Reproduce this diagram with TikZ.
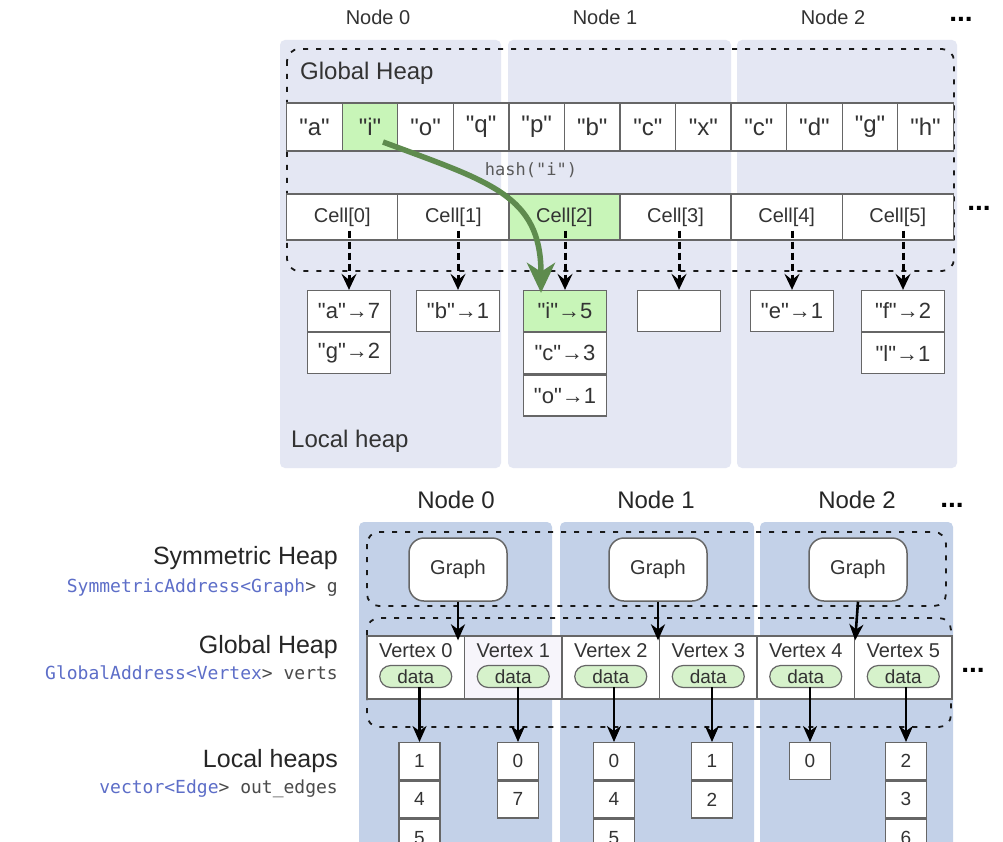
\documentclass[tikz,border=0pt]{standalone}
\usepackage{fontspec}
\setmainfont{Liberation Sans}[Ligatures=TeXOff]
\setmonofont{DejaVu Sans Mono}
\usetikzlibrary{arrows.meta,calc}

\definecolor{topbg}{HTML}{E4E7F3}
\definecolor{botbg}{HTML}{C3D1E8}
\definecolor{hlgreen}{HTML}{C8F5B8}
\definecolor{pillgreen}{HTML}{D6F2CB}
\definecolor{arrowgreen}{HTML}{5E8B4E}
\definecolor{ink}{HTML}{333333}
\definecolor{frame}{HTML}{666666}
\definecolor{codeblue}{HTML}{5D6EC8}
\definecolor{codegray}{HTML}{4A4A4A}
\definecolor{softwhite}{HTML}{F7F5FB}

\newcommand\fsz[1]{\fontsize{#1}{#1}\selectfont}

\tikzset{
  topcol/.style={fill=topbg, rounded corners=5pt},
  botcol/.style={fill=botbg, rounded corners=5pt},
  heapline/.style={draw=black!90, line width=1.8pt, dash pattern=on 5pt off 8pt, rounded corners=12pt},
  strcell/.style={draw=frame, line width=1.3pt, minimum width=55.55pt, minimum height=48pt,
    inner sep=0pt, text=ink, font=\fsz{24}},
  hcell/.style={draw=frame, line width=1.3pt, minimum width=111.1pt, minimum height=46pt,
    inner sep=0pt, text=ink, font=\fsz{20}},
  kvbox/.style={draw=frame, line width=1.3pt, fill=white, minimum width=83pt, minimum height=41pt,
    inner sep=0pt, text=ink, font=\fsz{22}},
  ptrdash/.style={line width=3pt, dash pattern=on 7pt off 4pt,
    -{Stealth[length=16pt,width=15pt,inset=6pt]}},
  ptrsolid/.style={line width=2.6pt, -{Stealth[length=16pt,width=14pt,inset=5pt]}},
  hasharrow/.style={draw=arrowgreen, line width=5.5pt,
    -{Stealth[length=30pt,width=28pt,inset=9pt]}},
  toplabel/.style={text=ink, font=\fsz{20}},
  botlabel/.style={text=black!85, font=\fsz{24}},
  heaptitle/.style={text=ink, font=\fsz{24}, anchor=base west, inner sep=0pt},
  sidetitle/.style={text=black!85, font=\fsz{25}, anchor=base east, inner sep=0pt},
  sidecode/.style={font=\ttfamily\fsz{18}, anchor=base east, inner sep=0pt},
  ellipsis/.style={font=\fsz{28}\bfseries, text=black, anchor=base, inner sep=0pt},
  graphbox/.style={draw=frame, line width=1.5pt, fill=white, rounded corners=15pt,
    minimum width=98pt, minimum height=63pt, inner sep=0pt, text=ink, font=\fsz{20}},
  vcell/.style={draw=frame, line width=1.3pt, minimum width=97.5pt, minimum height=63pt, inner sep=0pt},
  vtext/.style={text=ink, font=\fsz{20}, inner sep=0pt},
  pill/.style={draw=frame, line width=1.2pt, fill=pillgreen, rounded corners=11pt,
    minimum width=72pt, minimum height=22pt, inner sep=0pt, text=ink, font=\fsz{19}},
  numbox/.style={draw=frame, line width=1.3pt, fill=white, minimum width=41pt, minimum height=37pt,
    inner sep=0pt, text=ink, font=\fsz{19}},
}

\begin{document}
\begin{tikzpicture}[x=1pt,y=-1pt]
\useasboundingbox (0,0) rectangle (1003,842);
\fill[white] (0,0) rectangle (1003,842);

% ---------------- Upper figure: distributed hash map ----------------
\fill[topcol] (280,40) rectangle (501,468);
\fill[topcol] (508,40) rectangle (731,468);
\fill[topcol] (737,40) rectangle (957,468);

\node[toplabel] (tn0) at (378,17) {Node 0};
\node[toplabel] (tn1) at (605,17) {Node 1};
\node[toplabel] (tn2) at (833,17) {Node 2};
\node[ellipsis] (tdots) at (961,22) {...};

\draw[heapline] (287,49) rectangle (954,271);
\node[heaptitle] (gh) at (300,80) {Global Heap};
\node[heaptitle] (lh) at (291,447) {Local heap};

% key array
\foreach \t/\f [count=\k from 0] in {a/white,i/hlgreen,o/white,q/white,p/white,b/white,
                                     c/white,x/white,c/white,d/white,g/white,h/white}
  \node[strcell, fill=\f] (s\k) at ({286.7+55.55*(\k+0.5)},127) {"\t"};

\node[font=\ttfamily\fsz{17}, text=black!65] (hashlbl) at (531,170) {hash("i")};

% hash table cells
\foreach \f [count=\k from 0] in {white,white,hlgreen,white,white,white}
  \node[hcell, fill=\f] (c\k) at ({286.7+111.1*(\k+0.5)},217) {Cell[\k]};
\node[ellipsis] (cdots) at (979,211) {...};

% per-cell buckets in local heaps
\node[kvbox] (l00) at (349,311) {"a"→7};
\node[kvbox, anchor=north] (l01) at (l00.south) {"g"→2};
\node[kvbox] (l10) at (458,311) {"b"→1};
\node[kvbox, fill=hlgreen] (l20) at (565,311) {"i"→5};
\node[kvbox, anchor=north] (l21) at (l20.south) {"c"→3};
\node[kvbox, anchor=north] (l22) at (l21.south) {"o"→1};
\node[kvbox] (l30) at (679,311) {};
\node[kvbox] (l40) at (792,311) {"e"→1};
\node[kvbox] (l50) at (903,311) {"f"→2};
\node[kvbox, anchor=north] (l51) at (l50.south) {"l"→1};

\foreach \b/\c in {l00/c0,l10/c1,l20/c2,l30/c3,l40/c4,l50/c5}
  \draw[ptrdash] ($(\b.north |- \c.south)+(0,-10)$) -- (\b.north);

\draw[hasharrow] ($(s1.center)+(13,15)$) .. controls (490,182) and ($(l20.north)+(-24,-95)$)
  .. ($(l20.north)+(-24,3)$);

% ---------------- Lower figure: graph layout ----------------
\fill[botcol] (359,522) rectangle (552,850);
\fill[botcol] (560,522) rectangle (754,850);
\fill[botcol] (760,522) rectangle (953,850);

\node[botlabel] (bn0) at (456,500) {Node 0};
\node[botlabel] (bn1) at (656,500) {Node 1};
\node[botlabel] (bn2) at (857,500) {Node 2};
\node[ellipsis] (bdots) at (952,507) {...};

\node[sidetitle] (symt) at (338,564) {Symmetric Heap};
\node[sidecode] (symc) at (338,592) {\textcolor{codeblue}{SymmetricAddress<Graph}\textcolor{codegray}{> g}};
\node[sidetitle] (glbt) at (338,653) {Global Heap};
\node[sidecode] (glbc) at (338,679) {\textcolor{codeblue}{GlobalAddress<Vertex}\textcolor{codegray}{> verts}};
\node[sidetitle] (loct) at (338,767) {Local heaps};
\node[sidecode] (locc) at (338,793) {\textcolor{codeblue}{vector<Edge}\textcolor{codegray}{> out\_edges}};

\draw[heapline] (367,532) rectangle (946,606);
\draw[heapline] (367,618) rectangle (951,727);

\node[graphbox] (g0) at (458,569.5) {Graph};
\node[graphbox] (g1) at (658,569.5) {Graph};
\node[graphbox] (g2) at (858,569.5) {Graph};

\foreach \f [count=\k from 0] in {white,softwhite,white,white,white,white} {
  \node[vcell, fill=\f] (v\k) at ({367+97.5*(\k+0.5)},667.5) {};
  \node[vtext] (vt\k) at ($(v\k.north)+(0,15)$) {Vertex \k};
  \node[pill] (d\k) at ($(v\k.center)+(0,9)$) {data};
}
\node[ellipsis] (vdots) at (973,672) {...};

\draw[ptrsolid] (g0.south) -- ($(g0.south |- v0.north)+(0,5)$);
\draw[ptrsolid] (g1.south) -- ($(g1.south |- v2.north)+(0,5)$);
\draw[ptrsolid] (g2.south) -- ($(v4.north east)+(0,5)$);

% out-edge lists
\node[numbox, anchor=north] (e00) at (419.5,742) {1};
\node[numbox, anchor=north] (e01) at (e00.south) {4};
\node[numbox, anchor=north] (e02) at (e01.south) {5};
\node[numbox, anchor=north] (e10) at (518,742) {0};
\node[numbox, anchor=north] (e11) at (e10.south) {7};
\node[numbox, anchor=north] (e20) at (614,742) {0};
\node[numbox, anchor=north] (e21) at (e20.south) {4};
\node[numbox, anchor=north] (e22) at (e21.south) {5};
\node[numbox, anchor=north] (e30) at (712,742) {1};
\node[numbox, anchor=north] (e31) at (e30.south) {2};
\node[numbox, anchor=north] (e40) at (810,742) {0};
\node[numbox, anchor=north] (e50) at (906,742) {2};
\node[numbox, anchor=north] (e51) at (e50.south) {3};
\node[numbox, anchor=north] (e52) at (e51.south) {6};

\foreach \k in {0,...,5}
  \draw[ptrsolid] ($(e\k0.north |- d\k.south)+(0,-1)$) -- (e\k0.north);
\end{tikzpicture}
\end{document}
